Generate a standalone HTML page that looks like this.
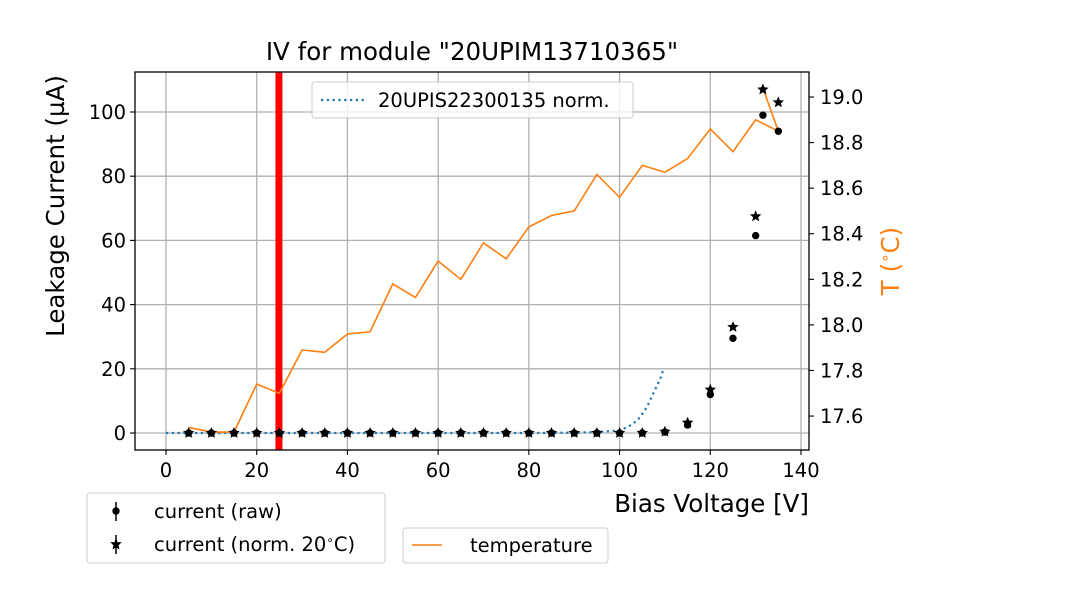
<!DOCTYPE html>
<html><head><meta charset="utf-8"><style>
body{margin:0;background:#fff}
svg{display:block;font-family:"DejaVu Sans","Liberation Sans",sans-serif}
</style></head><body>
<svg id="c" width="1080" height="600" xmlns="http://www.w3.org/2000/svg"></svg>
<script>
const voltages=[5,10,15,20,25,30,35,40,45,50,55,60,65,70,75,80,85,90,95,100,105,110,115,120,125,130,131.6,135];
const currentRaw=[0,0,0,0,0,0,0,0,0,0,0,0,0,0,0,0,0,0,0,0,0,0.3,2.5,12,29.5,61.5,99,94];
const currentNorm=[0,0,0,0,0,0,0,0,0,0,0,0,0,0,0,0,0,0,0,0,0,0.4,3.2,13.5,33,67.5,107,103];
const tempV=[5,10,15,20,25,30,35,40,45,50,55,60,65,70,75,80,85,90,95,100,105,110,115,120,125,130,135,131.6];
const tempC=[17.55,17.53,17.53,17.74,17.70,17.89,17.88,17.96,17.97,18.18,18.12,18.28,18.20,18.36,18.29,18.43,18.48,18.50,18.66,18.56,18.70,18.67,18.73,18.86,18.76,18.90,18.85,19.04];
const refV=[0,10,20,30,40,50,60,70,80,90,95,100,102,104,106,107,108,109,109.6];
const refI=[0,0,0,0,0,0,0,0,0,0.1,0.3,0.8,2,4,8,11,14,17,19.6];
const xTicks=[0,20,40,60,80,100,120,140];
const yTicks=[0,20,40,60,80,100];
const tTicks=[17.6,17.8,18.0,18.2,18.4,18.6,18.8,19.0];
const markerV=24.9;

const L=135,R=809,T=72,B=450;
const X=v=>166+v*(801-166)/140;
const Y=i=>433-i*3.21;
const TY=t=>97+(19.0-t)*227.9;
const svg=document.getElementById('c');
const NS='http://www.w3.org/2000/svg';
function el(tag,attrs,parent){const e=document.createElementNS(NS,tag);for(const k in attrs)e.setAttribute(k,attrs[k]);(parent||svg).appendChild(e);return e;}
function txt(s,attrs){const e=el('text',attrs);e.textContent=s;return e;}

xTicks.forEach(v=>{if(X(v)<R){const g=el('line',{x1:X(v),x2:X(v),y1:T,y2:B,stroke:'#b0b0b0','stroke-width':1.3});

}});
yTicks.forEach(v=>{const g=el('line',{x1:L,x2:R,y1:Y(v),y2:Y(v),stroke:'#b0b0b0','stroke-width':1.3});

});

const rl=el('line',{x1:X(markerV),x2:X(markerV),y1:T,y2:B,stroke:'#ff0000','stroke-width':7});



const rp=el('polyline',{points:refV.map((v,i)=>X(v)+','+Y(refI[i])).join(' '),fill:'none',stroke:'#1f77b4','stroke-width':2.2,'stroke-dasharray':'2.2,3.6'});



const tp=el('polyline',{points:tempV.map((v,i)=>X(v)+','+TY(tempC[i])).join(' '),fill:'none',stroke:'#ff7f0e','stroke-width':1.6});



function star(cx,cy,r){let p=[];for(let k=0;k<10;k++){const a=-Math.PI/2+k*Math.PI/5;const rr=k%2?r*0.45:r;p.push((cx+rr*Math.cos(a)).toFixed(1)+','+(cy+rr*Math.sin(a)).toFixed(1));}return p.join(' ');}
voltages.forEach((v,i)=>{
 const c=el('circle',{cx:X(v),cy:Y(currentRaw[i]),r:3.7,fill:'#000'});
 
 
 const s=el('polygon',{points:star(X(v),Y(currentNorm[i]),6),fill:'#000'});
 
 
});

const fr=el('rect',{x:L,y:T,width:R-L,height:B-T,fill:'none',stroke:'#000','stroke-width':1.3});



xTicks.forEach(v=>{el('line',{x1:X(v),x2:X(v),y1:B,y2:B+5,stroke:'#000','stroke-width':1.1});
const t=txt(String(v),{x:X(v),y:B+27,'text-anchor':'middle','font-size':19.5});

});
yTicks.forEach(v=>{el('line',{x1:L-5,x2:L,y1:Y(v),y2:Y(v),stroke:'#000','stroke-width':1.1});
const t=txt(String(v),{x:L-9,y:Y(v)+7,'text-anchor':'end','font-size':19.5});

});
tTicks.forEach(v=>{el('line',{x1:R,x2:R+5,y1:TY(v),y2:TY(v),stroke:'#000','stroke-width':1.1});
const t=txt(v.toFixed(1),{x:R+11,y:TY(v)+7,'font-size':19.5});

});
</script>
<svg width="1080" height="600" style="position:absolute;left:0;top:0;font-family:'DejaVu Sans','Liberation Sans',sans-serif" xmlns="http://www.w3.org/2000/svg">
<text x="472" y="60" text-anchor="middle" font-size="24.5">IV for module "20UPIM13710365"</text>
<text transform="translate(64,206) rotate(-90)" text-anchor="middle" font-size="24.5">Leakage Current (µA)</text>
<text transform="translate(899,261) rotate(-90)" text-anchor="middle" font-size="24.5" fill="#ff7f0e">T (<tspan font-size="15" dy="-9">∘</tspan><tspan dy="9">C)</tspan></text>
<text x="809" y="512" text-anchor="end" font-size="24.5">Bias Voltage [V]</text>
<g>
<rect x="312" y="82" width="321" height="36" rx="3" fill="#fff" fill-opacity="0.8" stroke="#ccc"/>
<line x1="321" x2="365" y1="100" y2="100" stroke="#1f77b4" stroke-width="2.2" stroke-dasharray="2.2,3.6"/>
<text x="378" y="107" font-size="19.5">20UPIS22300135 norm.</text>
</g>
<g>
<rect x="87" y="493" width="298" height="70" rx="3" fill="#fff" stroke="#ccc"/>
<line x1="116" x2="116" y1="502" y2="521" stroke="#000" stroke-width="1.5"/>
<circle cx="116" cy="511" r="3.7"/>
<text x="154" y="518" font-size="19.5">current (raw)</text>
<line x1="116" x2="116" y1="535" y2="554" stroke="#000" stroke-width="1.5"/>
<polygon points="116,538 117.6,542.3 121.7,542.1 118.6,545.4 119.5,549.5 116,547.4 112.5,549.5 113.4,545.4 110.3,542.1 114.4,542.3"/>
<text x="154" y="551" font-size="19.5">current (norm. 20<tspan font-size="12" dy="-7">∘</tspan><tspan dy="7">C)</tspan></text>
</g>
<g>
<rect x="403" y="528" width="205" height="35" rx="3" fill="#fff" stroke="#ccc"/>
<line x1="412" x2="442" y1="545" y2="545" stroke="#ff7f0e" stroke-width="1.6"/>
<text x="470" y="552" font-size="19.5">temperature</text>
</g>
</svg>
</body></html>
